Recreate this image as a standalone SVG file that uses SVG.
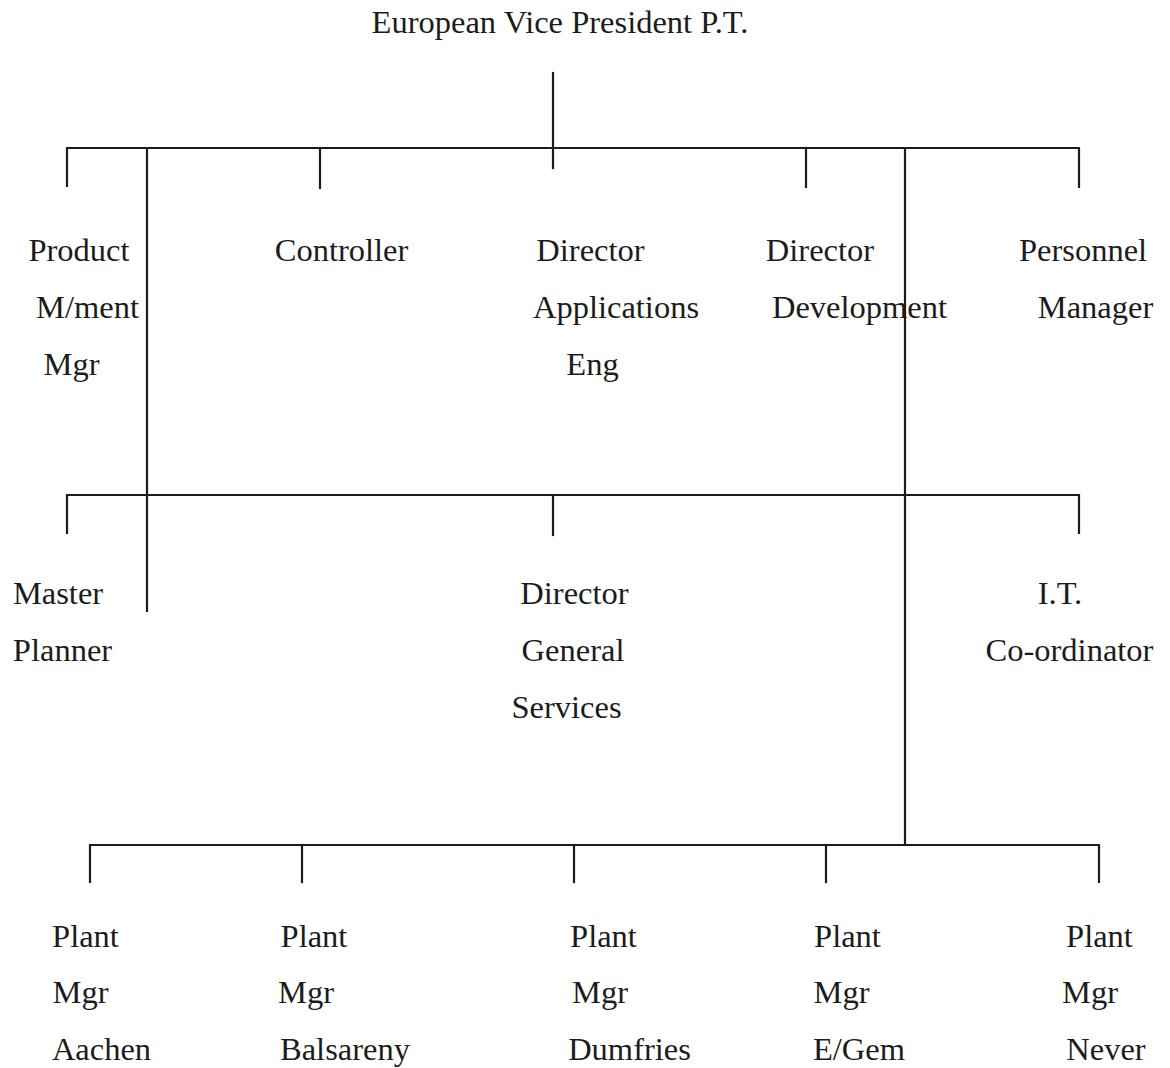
<svg xmlns="http://www.w3.org/2000/svg" width="1170" height="1068" viewBox="0 0 1170 1068">
  <style>
    .lbl { font-family: "Liberation Serif", "Times New Roman", serif; font-size: 32.5px; fill: #1c1c1c; text-anchor: middle; }
    .ln { stroke: #1c1c1c; stroke-width: 2.2; fill: none; stroke-linecap: square; }
  </style>
  <rect width="1170" height="1068" fill="#ffffff"/>

  <!-- connectors -->
  <g id="connectors" class="ln">
    <!-- from the Vice President down to the first bar -->
    <path d="M553 73 V168"/>
    <!-- first level bar and drops -->
    <path d="M67 186 V148 H1079 V187"/>
    <path d="M320 148 V188"/>
    <path d="M806 148 V187"/>
    <!-- long risers through the chart -->
    <path d="M147 148 V611"/>
    <path d="M905 148 V845"/>
    <!-- second level bar and drops -->
    <path d="M67 533 V495 H1079 V533"/>
    <path d="M553 495 V535"/>
    <!-- plant level bar and drops -->
    <path d="M90 882 V845 H1099 V882"/>
    <path d="M302 845 V882"/>
    <path d="M574 845 V882"/>
    <path d="M826 845 V882"/>
  </g>

  <g id="vice-president"><text class="lbl" x="560" y="33">European Vice President P.T.</text></g>

  <g id="product-mgmt-mgr">
    <text class="lbl" x="79" y="261">Product</text>
    <text class="lbl" x="87.5" y="318">M/ment</text>
    <text class="lbl" x="71.5" y="375">Mgr</text>
  </g>
  <g id="controller"><text class="lbl" x="341.5" y="261">Controller</text></g>
  <g id="director-applications">
    <text class="lbl" x="590.5" y="261">Director</text>
    <text class="lbl" x="616" y="318">Applications</text>
    <text class="lbl" x="592.5" y="375">Eng</text>
  </g>
  <g id="director-development">
    <text class="lbl" x="820" y="261">Director</text>
    <text class="lbl" x="859.5" y="318">Development</text>
  </g>
  <g id="personnel-manager">
    <text class="lbl" x="1083" y="261">Personnel</text>
    <text class="lbl" x="1095.5" y="318">Manager</text>
  </g>

  <g id="master-planner">
    <text class="lbl" x="58" y="604">Master</text>
    <text class="lbl" x="62.5" y="661">Planner</text>
  </g>
  <g id="director-general-services">
    <text class="lbl" x="574.5" y="604">Director</text>
    <text class="lbl" x="573" y="661">General</text>
    <text class="lbl" x="566.5" y="718">Services</text>
  </g>
  <g id="it-coordinator">
    <text class="lbl" x="1060" y="604">I.T.</text>
    <text class="lbl" x="1069.5" y="661">Co-ordinator</text>
  </g>

  <g id="plant-aachen">
    <text class="lbl" x="85.5" y="947">Plant</text>
    <text class="lbl" x="80.5" y="1003">Mgr</text>
    <text class="lbl" x="101.5" y="1060">Aachen</text>
  </g>
  <g id="plant-balsareny">
    <text class="lbl" x="314" y="947">Plant</text>
    <text class="lbl" x="306" y="1003">Mgr</text>
    <text class="lbl" x="345" y="1060">Balsareny</text>
  </g>
  <g id="plant-dumfries">
    <text class="lbl" x="603.5" y="947">Plant</text>
    <text class="lbl" x="600" y="1003">Mgr</text>
    <text class="lbl" x="629.5" y="1060">Dumfries</text>
  </g>
  <g id="plant-egem">
    <text class="lbl" x="847.5" y="947">Plant</text>
    <text class="lbl" x="841.5" y="1003">Mgr</text>
    <text class="lbl" x="859" y="1060">E/Gem</text>
  </g>
  <g id="plant-never">
    <text class="lbl" x="1099.5" y="947">Plant</text>
    <text class="lbl" x="1090" y="1003">Mgr</text>
    <text class="lbl" x="1106" y="1060">Never</text>
  </g>
</svg>
